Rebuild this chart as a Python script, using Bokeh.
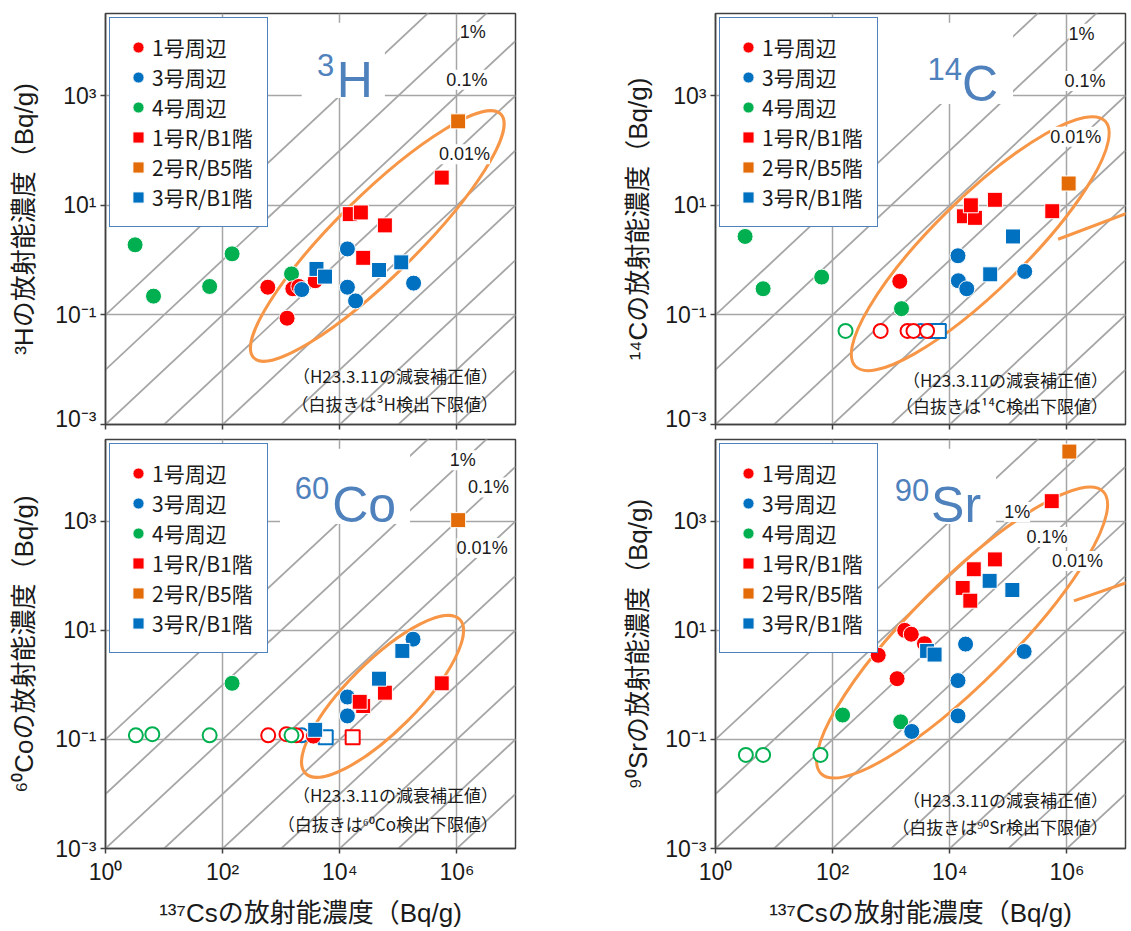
from bokeh.plotting import figure
from bokeh.layouts import row, column
from bokeh.models import (Range1d, FixedTicker, Legend, LegendItem, Label,
                          BoxAnnotation, CustomJSTickFormatter)
from bokeh.embed import file_html
from bokeh.resources import INLINE

# ---------------- axis ticks / labels ----------------
XTICKS = [1, 1e2, 1e4, 1e6]
XTICK_LABELS = ["10⁰", "10²", "10⁴", "10⁶"]
YTICKS = [1e-3, 1e-1, 1e1, 1e3]
YTICK_LABELS = ["10⁻³", "10⁻¹", "10¹", "10³"]
RATIO_LINES = [1e-9, 1e-8, 1e-7, 1e-6, 1e-5, 1e-4, 1e-3, 1e-2, 1e-1]
RATIO_LABELS = ["1%", "0.1%", "0.01%"]
LEGEND_LABELS = ["1号周辺", "3号周辺", "4号周辺", "1号R/B1階", "2号R/B5階", "3号R/B1階"]
XLABEL = "¹³⁷Csの放射能濃度（Bq/g)"
NOTE1 = "（H23.3.11の減衰補正値）"

# ---------------- 3H ----------------
H3_U1_CS = [590, 1260, 1580, 2000, 3800]
H3_U1 = [0.32, 0.087, 0.30, 0.33, 0.42]
H3_U3_CS = [2240, 13500, 13500, 18600, 182000]
H3_U3 = [0.29, 1.6, 0.32, 0.18, 0.38]
H3_U4_CS = [3.2, 6.6, 60, 145, 1500]
H3_U4 = [1.9, 0.22, 0.33, 1.3, 0.56]
H3_R1_CS = [14800, 22900, 58900, 25100, 550000]
H3_R1 = [6.9, 7.4, 4.3, 1.1, 32]
H3_R2_CS = [1050000]
H3_R2 = [340]
H3_R3_CS = [4000, 5600, 46800, 112000]
H3_R3 = [0.69, 0.50, 0.66, 0.91]

# ---------------- 14C ----------------
C14_U1_CS = [1400]
C14_U1 = [0.41]
C14_U3_CS = [13800, 14000, 19500, 190000]
C14_U3 = [1.2, 0.42, 0.30, 0.62]
C14_U4_CS = [3.2, 6.5, 65, 1500]
C14_U4 = [2.7, 0.30, 0.49, 0.13]
C14_R1_CS = [17400, 26900, 22900, 58900, 562000]
C14_R1 = [6.3, 5.9, 10, 12.6, 7.8]
C14_R2_CS = [1070000]
C14_R2 = [25]
C14_R3_CS = [120000, 49000]
C14_R3 = [2.7, 0.55]
C14_HOLLOW_U4_CS = [166]
C14_HOLLOW_U4 = [0.051]
C14_HOLLOW_U1_CS = [660, 1900, 2400, 4100]
C14_HOLLOW_U1 = [0.051, 0.051, 0.051, 0.051]
C14_HOLLOW_U3_CS = [3200]
C14_HOLLOW_U3 = [0.051]
C14_HOLLOW_R3_CS = [5600, 6500]
C14_HOLLOW_R3 = [0.051, 0.051]

# ---------------- 60Co ----------------
CO_U1_CS = [3550]
CO_U1 = [0.115]
CO_U3_CS = [178000, 13500, 13500]
CO_U3 = [6.9, 0.60, 0.27]
CO_U4_CS = [145]
CO_U4 = [1.07]
CO_R1_CS = [550000, 58900, 25100, 21900]
CO_R1 = [1.07, 0.72, 0.41, 0.49]
CO_R2_CS = [1050000]
CO_R2 = [1050]
CO_R3_CS = [117000, 46800, 3800]
CO_R3 = [4.2, 1.3, 0.15]
CO_HOLLOW_U4_CS = [3.3, 6.3, 60, 1500]
CO_HOLLOW_U4 = [0.119, 0.125, 0.119, 0.119]
CO_HOLLOW_U1_CS = [600, 1230, 1800]
CO_HOLLOW_U1 = [0.119, 0.125, 0.119]
CO_HOLLOW_U3_CS = [2240]
CO_HOLLOW_U3 = [0.119]
CO_HOLLOW_R3_CS = [5750]
CO_HOLLOW_R3 = [0.11]
CO_HOLLOW_R1_CS = [16600]
CO_HOLLOW_R1 = [0.11]

# ---------------- 90Sr ----------------
SR_U1_CS = [1700, 2200, 3700, 600, 1260]
SR_U1 = [10, 8.5, 5.7, 3.5, 1.3]
SR_U3_CS = [18600, 13800, 13800, 2240, 186000]
SR_U3 = [5.6, 1.2, 0.27, 0.14, 4.1]
SR_U4_CS = [148, 1450]
SR_U4 = [0.28, 0.21]
SR_R1_CS = [550000, 58900, 25700, 16600, 22400]
SR_R1 = [2340, 200, 132, 60, 35]
SR_R2_CS = [1100000]
SR_R2 = [19000]
SR_R3_CS = [47900, 117000, 4100, 5500]
SR_R3 = [81, 55, 4.2, 3.6]
SR_HOLLOW_U4_CS = [3.3, 6.5, 62]
SR_HOLLOW_U4 = [0.052, 0.052, 0.052]

# ---------------- styles ----------------
RED = "#ff0000"
BLUE = "#0070c0"
GREEN = "#00b050"
ORANGE = "#e36c09"
ELLIPSE_C = "#f79646"
TITLE_C = "#4f81bd"
GRID_C = "#a6a6a6"
FRAME_C = "#404040"
TEXT_C = "#1a1a1a"
STYLE = {
    "1号周辺": ("circle", RED), "3号周辺": ("circle", BLUE), "4号周辺": ("circle", GREEN),
    "1号R/B1階": ("square", RED), "2号R/B5階": ("square", ORANGE), "3号R/B1階": ("square", BLUE),
}
DRAW_ORDER = ["4号周辺", "1号周辺", "3号周辺", "1号R/B1階", "2号R/B5階", "3号R/B1階"]
FRAME_W = 410


def fmt(labels):
    return CustomJSTickFormatter(args=dict(tvals=XTICKS + YTICKS, tlabels=labels), code="""
        const i = tvals.findIndex(t => Math.abs(Math.log10(t) - Math.log10(tick)) < 1e-6);
        return i >= 0 ? tlabels[i] : '';
    """)


def make_panel(series, hollow, ylabel, sup, sym, note2, ell, leader, rpos, tpos, box, npos,
               left, right, top, bottom, height, show_x, ystand):
    p = figure(width=left + FRAME_W + right, height=height,
               x_axis_type="log", y_axis_type="log",
               x_range=Range1d(1, 1e7), y_range=Range1d(1e-3, 10 ** 4.5),
               output_backend="svg", toolbar_location=None,
               min_border_left=left, min_border_right=right,
               min_border_top=top, min_border_bottom=bottom)
    p.background_fill_color = "white"
    p.border_fill_color = "white"
    p.outline_line_color = FRAME_C
    p.outline_line_width = 1.5
    p.outline_line_alpha = 1

    xa, ya = p.xaxis[0], p.yaxis[0]
    xa.ticker = FixedTicker(ticks=XTICKS)
    ya.ticker = FixedTicker(ticks=YTICKS)
    for ax in (xa, ya):
        ax.axis_line_color = FRAME_C
        ax.axis_line_width = 1.5
        ax.major_tick_line_color = FRAME_C
        ax.major_tick_line_width = 1.5
        ax.major_tick_out = 5
        ax.major_tick_in = 0
        ax.minor_tick_line_color = None
        ax.major_label_text_font = "Liberation Sans"
        ax.major_label_text_font_size = "23px"
        ax.major_label_text_color = TEXT_C
        ax.axis_label_text_font = "Liberation Sans, Noto Sans CJK JP"
        ax.axis_label_text_font_size = "26px"
        ax.axis_label_text_font_style = "normal"
        ax.axis_label_text_color = TEXT_C
    ya.formatter = fmt(["", "", "", ""] + YTICK_LABELS)
    ya.major_label_standoff = 4
    ya.axis_label = ylabel
    ya.axis_label_standoff = ystand
    if show_x:
        xa.formatter = fmt(XTICK_LABELS + ["", "", "", ""])
        xa.major_label_standoff = 5
        xa.axis_label = XLABEL
        xa.axis_label_standoff = 10
    else:
        xa.formatter = fmt(["", "", "", "", "", "", "", ""])
        xa.major_label_text_font_size = "0px"
        xa.major_label_standoff = 0

    for g in (p.xgrid[0], p.ygrid[0]):
        g.grid_line_color = GRID_C
        g.grid_line_width = 1.5

    # ratio reference lines  y = r * x
    p.segment(x0=[1] * len(RATIO_LINES), y0=RATIO_LINES,
              x1=[1e7] * len(RATIO_LINES), y1=[r * 1e7 for r in RATIO_LINES],
              line_color=GRID_C, line_width=1.8)

    # highlight ellipse + leader
    cx, cy, w, h, ang = ell
    p.ellipse(x=[10 ** cx], y=[10 ** cy], width=[w], height=[h], angle=[ang],
              angle_units="deg", width_units="screen", height_units="screen",
              fill_color=None, line_color=ELLIPSE_C, line_width=3)
    if leader is not None:
        (lx0, ly0), (lx1, ly1) = leader
        p.line(x=[10 ** lx0, 10 ** lx1], y=[10 ** ly0, 10 ** ly1],
               line_color=ELLIPSE_C, line_width=3)

    # hollow markers (detection limit)
    for key, xs, ys in hollow:
        m, c = STYLE[key]
        p.scatter(xs, ys, marker=m, size=14, fill_color="white",
                  line_color=c, line_width=2)

    rmap = {}
    for key in DRAW_ORDER:
        xs, ys = series[key]
        m, c = STYLE[key]
        rmap[key] = p.scatter(xs, ys, marker=m, size=16 if m == "circle" else 15,
                              fill_color=c, line_color="white", line_width=1)

    # white box behind the nuclide title
    bx0, bx1, by0, by1 = box
    p.add_layout(BoxAnnotation(left=10 ** bx0, right=10 ** bx1, bottom=10 ** by0, top=10 ** by1,
                               fill_color="white", fill_alpha=1, line_color=None))

    # ratio labels
    for txt, (lx, ly) in zip(RATIO_LABELS, rpos):
        p.add_layout(Label(x=10 ** lx, y=10 ** ly, text=txt, text_font="Liberation Sans",
                           text_font_size="18px", text_color=TEXT_C, text_align="center",
                           text_baseline="middle", background_fill_color="white",
                           background_fill_alpha=1))

    # title
    sx, sy, mx, my = tpos
    p.add_layout(Label(x=10 ** sx, y=10 ** sy, text=sup, text_font="Liberation Sans",
                       text_font_size="31px", text_color=TITLE_C, text_align="left",
                       text_baseline="alphabetic"))
    p.add_layout(Label(x=10 ** mx, y=10 ** my, text=sym, text_font="Liberation Sans",
                       text_font_size="50px", text_color=TITLE_C, text_align="left",
                       text_baseline="alphabetic"))

    # notes
    nx, ny1, ny2 = npos
    for txt, ny in ((NOTE1, ny1), (note2, ny2)):
        p.add_layout(Label(x=10 ** nx, y=10 ** ny, text=txt, text_font="Noto Sans CJK JP",
                           text_font_size="17px", text_color=TEXT_C, text_align="right",
                           text_baseline="middle"))

    items = [LegendItem(label=lab, renderers=[rmap[lab]]) for lab in LEGEND_LABELS]
    leg = Legend(items=items, location="top_left", margin=4, padding=14, spacing=0,
                 glyph_width=28, glyph_height=28, label_height=22, label_standoff=0,
                 label_text_font="Noto Sans CJK JP", label_text_font_size="21px",
                 label_text_color=TEXT_C, border_line_color=TITLE_C, border_line_width=1.5,
                 border_line_alpha=1, background_fill_color="white", background_fill_alpha=1)
    p.add_layout(leg)
    return p


def sdict(u1, u3, u4, r1, r2, r3):
    return {"1号周辺": u1, "3号周辺": u3, "4号周辺": u4,
            "1号R/B1階": r1, "2号R/B5階": r2, "3号R/B1階": r3}


p_h3 = make_panel(
    sdict((H3_U1_CS, H3_U1), (H3_U3_CS, H3_U3), (H3_U4_CS, H3_U4),
          (H3_R1_CS, H3_R1), (H3_R2_CS, H3_R2), (H3_R3_CS, H3_R3)),
    [], "³Hの放射能濃度（Bq/g)", "3", "H", "（白抜きは³H検出下限値）",
    (4.64, 0.44, 347, 81, 44.6), None,
    [(6.27, 4.16), (6.17, 3.29), (6.13, 1.93)],
    (3.61, 3.56, 3.95, 3.29), (3.35, 4.77, 2.96, 4.33), (6.70, -2.11, -2.62),
    105, 50, 13, 7, 431, False, 13)

p_c14 = make_panel(
    sdict((C14_U1_CS, C14_U1), (C14_U3_CS, C14_U3), (C14_U4_CS, C14_U4),
          (C14_R1_CS, C14_R1), (C14_R2_CS, C14_R2), (C14_R3_CS, C14_R3)),
    [("3号R/B1階", C14_HOLLOW_R3_CS, C14_HOLLOW_R3), ("3号周辺", C14_HOLLOW_U3_CS, C14_HOLLOW_U3),
     ("1号周辺", C14_HOLLOW_U1_CS, C14_HOLLOW_U1), ("4号周辺", C14_HOLLOW_U4_CS, C14_HOLLOW_U4)],
    "¹⁴Cの放射能濃度（Bq/g)", "14", "C", "（白抜きは¹⁴C検出下限値）",
    (4.52, 0.30, 350, 92, 44.5), ((5.85, 0.38), (7.11, 0.89)),
    [(6.25, 4.13), (6.31, 3.27), (6.15, 2.25)],
    (3.62, 3.49, 4.21, 3.22), (2.64, 5.08, 2.85, 4.33), (6.70, -2.18, -2.65),
    150, 6, 13, 7, 431, False, 9)

p_co = make_panel(
    sdict((CO_U1_CS, CO_U1), (CO_U3_CS, CO_U3), (CO_U4_CS, CO_U4),
          (CO_R1_CS, CO_R1), (CO_R2_CS, CO_R2), (CO_R3_CS, CO_R3)),
    [("3号R/B1階", CO_HOLLOW_R3_CS, CO_HOLLOW_R3), ("1号R/B1階", CO_HOLLOW_R1_CS, CO_HOLLOW_R1),
     ("3号周辺", CO_HOLLOW_U3_CS, CO_HOLLOW_U3), ("1号周辺", CO_HOLLOW_U1_CS, CO_HOLLOW_U1),
     ("4号周辺", CO_HOLLOW_U4_CS, CO_HOLLOW_U4)],
    "⁶⁰Coの放射能濃度（Bq/g)", "60", "Co", "（白抜きは⁶⁰Co検出下限値）",
    (4.73, -0.21, 218, 70, 45), None,
    [(6.10, 4.12), (6.54, 3.62), (6.43, 2.51)],
    (3.23, 3.61, 3.87, 3.30), (2.98, 5.20, 2.95, 4.33), (6.70, -2.01, -2.54),
    105, 50, 8, 83, 500, True, 13)

p_sr = make_panel(
    sdict((SR_U1_CS, SR_U1), (SR_U3_CS, SR_U3), (SR_U4_CS, SR_U4),
          (SR_R1_CS, SR_R1), (SR_R2_CS, SR_R2), (SR_R3_CS, SR_R3)),
    [("4号周辺", SR_HOLLOW_U4_CS, SR_HOLLOW_U4)],
    "⁹⁰Srの放射能濃度（Bq/g)", "90", "Sr", "（白抜きは⁹⁰Sr検出下限値）",
    (4.21, 0.96, 399, 101, 45), ((6.12, 1.54), (7.11, 1.91)),
    [(5.15, 3.17), (5.66, 2.71), (6.18, 2.27)],
    (3.06, 3.57, 3.68, 3.30), (2.74, 4.79, 2.95, 4.33), (6.70, -2.11, -2.60),
    150, 6, 8, 83, 500, True, 9)

layout = column(row(p_h3, p_c14, spacing=0), row(p_co, p_sr, spacing=0), spacing=0)
open("out.html", "w").write(file_html(layout, INLINE))
